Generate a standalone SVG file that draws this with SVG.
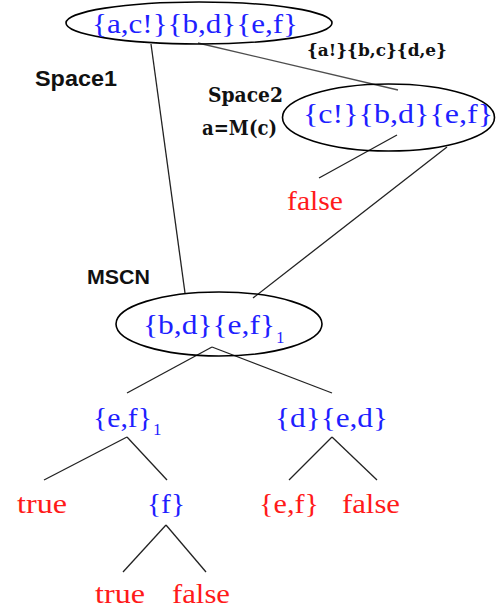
<svg xmlns="http://www.w3.org/2000/svg" width="496" height="612" viewBox="0 0 496 612">
<style>
.bg{fill:#ffffff}
.ell{fill:none;stroke:#000;stroke-width:1.6}
.edge{stroke:#222;stroke-width:1.3;fill:none}
.t{font-family:"Liberation Serif","Times New Roman",serif;font-size:28px}
.blue{fill:#1f1fff}
.red{fill:#ff1a1a}
.sub{font-family:"Liberation Serif","Times New Roman",serif;font-size:17px}
.lab{font-family:"Liberation Sans",Arial,sans-serif;font-weight:bold;fill:#111}
.labs{font-family:"DejaVu Serif","Liberation Serif",serif;font-weight:bold;fill:#111}
</style>
<rect class="bg" x="0" y="0" width="496" height="612"/>
<g id="connectors">
<line class="edge" x1="151" y1="44" x2="185" y2="293"/>
<line class="edge" x1="198" y1="43" x2="398" y2="90" stroke-opacity="0.8"/>
<line class="edge" x1="397" y1="135" x2="319" y2="178"/>
<line class="edge" x1="447" y1="147" x2="253" y2="298"/>
<line class="edge" x1="212" y1="347" x2="127" y2="393"/>
<line class="edge" x1="212" y1="347" x2="332" y2="393"/>
<line class="edge" x1="127" y1="437" x2="44" y2="480"/>
<line class="edge" x1="127" y1="437" x2="167" y2="480"/>
<line class="edge" x1="332" y1="437" x2="289" y2="480"/>
<line class="edge" x1="332" y1="437" x2="377" y2="480"/>
<line class="edge" x1="166" y1="525" x2="123" y2="572"/>
<line class="edge" x1="166" y1="525" x2="206" y2="572"/>
</g>
<g id="label-edge">
<text class="labs" x="307" y="56" font-size="17" textLength="140" lengthAdjust="spacingAndGlyphs">{a!}{b,c}{d,e}</text>
</g>
<g id="label-space1">
<text class="lab" x="35" y="86" font-size="22" textLength="82" lengthAdjust="spacingAndGlyphs">Space1</text>
</g>
<g id="label-space2">
<text class="labs" x="208" y="102" font-size="20" textLength="75" lengthAdjust="spacingAndGlyphs">Space2</text>
<text class="labs" x="202" y="135" font-size="20" textLength="75" lengthAdjust="spacingAndGlyphs">a=M(c)</text>
</g>
<g id="label-mscn">
<text class="lab" x="87" y="284" font-size="21" textLength="63" lengthAdjust="spacingAndGlyphs">MSCN</text>
</g>
<g id="node-root">
<ellipse class="ell" cx="199" cy="23" rx="133" ry="21"/>
<text class="t blue" x="92" y="33" textLength="206" lengthAdjust="spacingAndGlyphs">{a,c!}{b,d}{e,f}</text>
</g>
<g id="node-space2">
<ellipse class="ell" cx="388.5" cy="117.5" rx="106" ry="33.5"/>
<text class="t blue" x="303" y="123" textLength="190" lengthAdjust="spacingAndGlyphs">{c!}{b,d}{e,f}</text>
</g>
<g id="node-false1">
<text class="t red" x="287" y="210" textLength="56" lengthAdjust="spacingAndGlyphs">false</text>
</g>
<g id="node-mscn">
<ellipse class="ell" cx="219" cy="324" rx="103" ry="32"/>
<text class="t blue" x="143" y="334" textLength="132" lengthAdjust="spacingAndGlyphs">{b,d}{e,f}</text>
<text class="sub blue" x="276" y="343">1</text>
</g>
<g id="node-ef1">
<text class="t blue" x="93" y="427" textLength="59" lengthAdjust="spacingAndGlyphs">{e,f}</text>
<text class="sub blue" x="153" y="435">1</text>
</g>
<g id="node-ded">
<text class="t blue" x="275" y="427" textLength="113" lengthAdjust="spacingAndGlyphs">{d}{e,d}</text>
</g>
<g id="node-true1">
<text class="t red" x="17" y="513" textLength="50" lengthAdjust="spacingAndGlyphs">true</text>
</g>
<g id="node-f">
<text class="t blue" x="147" y="513" textLength="38" lengthAdjust="spacingAndGlyphs">{f}</text>
</g>
<g id="node-ef-red">
<text class="t red" x="259" y="513" textLength="60" lengthAdjust="spacingAndGlyphs">{e,f}</text>
</g>
<g id="node-false2">
<text class="t red" x="342" y="513" textLength="58" lengthAdjust="spacingAndGlyphs">false</text>
</g>
<g id="node-true2">
<text class="t red" x="95" y="603" textLength="50" lengthAdjust="spacingAndGlyphs">true</text>
</g>
<g id="node-false3">
<text class="t red" x="172" y="603" textLength="58" lengthAdjust="spacingAndGlyphs">false</text>
</g>
</svg>
